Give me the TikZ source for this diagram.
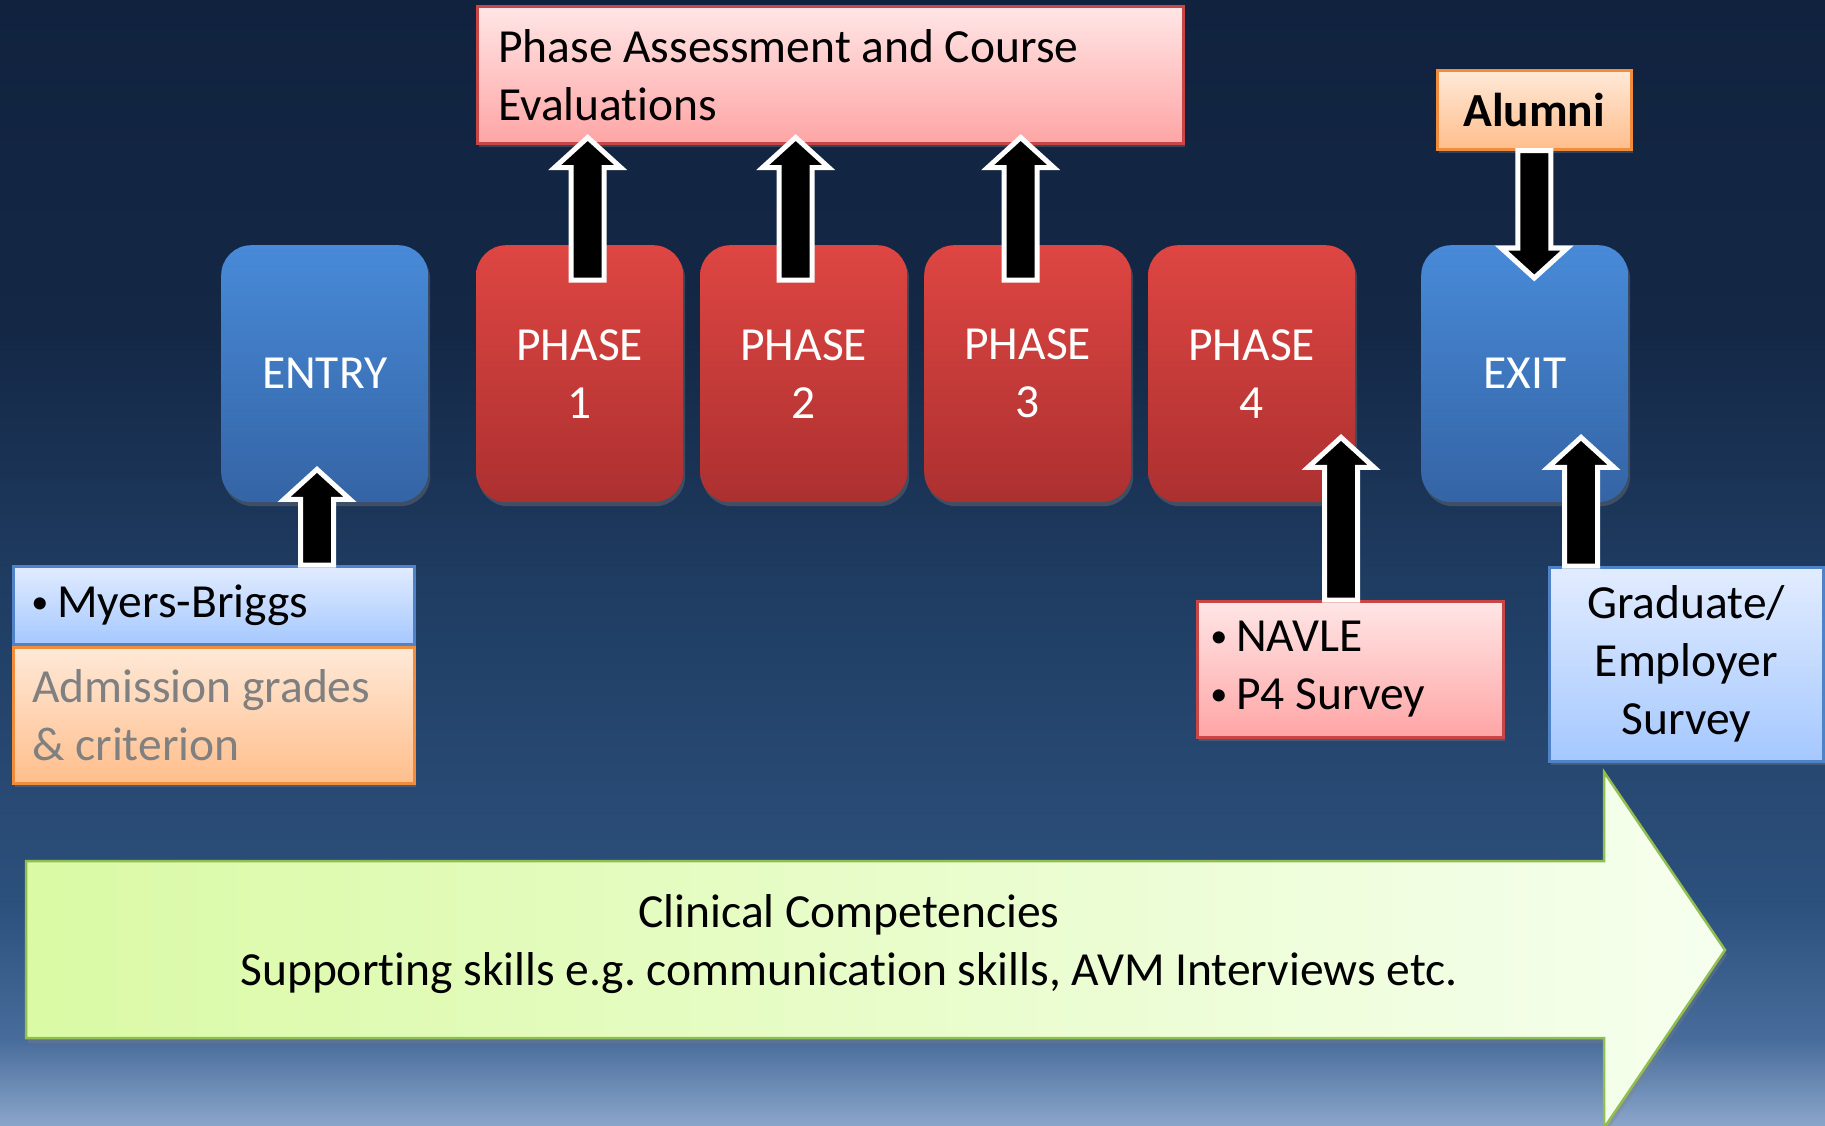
\documentclass[tikz,border=0pt]{standalone}
\usepackage{fontspec}
\usepackage{graphicx}
\setmainfont{Carlito}[Ligatures=NoCommon]
\usetikzlibrary{calc,shadows}

\definecolor{bgA}{RGB}{138,165,202}
\definecolor{bgB}{RGB}{72,108,155}
\definecolor{bgC}{RGB}{44,80,124}
\definecolor{bgD}{RGB}{32,62,100}
\definecolor{bgE}{RGB}{20,40,70}
\definecolor{bgF}{RGB}{16,34,62}
\definecolor{bluetop}{RGB}{72,138,216}
\definecolor{bluebot}{RGB}{52,100,165}
\definecolor{redtop}{RGB}{222,70,66}
\definecolor{redbot}{RGB}{172,48,48}
\definecolor{pinktop}{RGB}{255,230,230}
\definecolor{pinkbot}{RGB}{255,165,165}
\definecolor{pinkline}{RGB}{200,70,70}
\definecolor{lbtop}{RGB}{226,236,255}
\definecolor{lbbot}{RGB}{165,200,255}
\definecolor{lbline}{RGB}{80,130,200}
\definecolor{ortop}{RGB}{255,233,216}
\definecolor{orbot}{RGB}{255,190,140}
\definecolor{orline}{RGB}{240,140,60}
\definecolor{limeL}{RGB}{218,250,165}
\definecolor{limeR}{RGB}{246,255,238}
\definecolor{limeline}{RGB}{145,190,80}
\definecolor{graytext}{RGB}{128,128,128}

\pgfdeclareverticalshading{bgshade}{100bp}{color(0bp)=(bgA); color(25bp)=(bgA); color(28.8bp)=(bgB); color(35bp)=(bgC); color(48bp)=(bgD); color(60bp)=(bgE); color(75bp)=(bgF); color(100bp)=(bgF)}

\newcommand{\blockarrow}[2]{%
  \coordinate (hb) at ($(#2)!30pt!(#1)$);
  \draw[barrow] ($(#1)!16.5pt!90:(#2)$) -- ($(hb)!16.5pt!90:(#2)$) -- ($(hb)!33pt!90:(#2)$)
    -- (#2) -- ($(hb)!33pt!-90:(#2)$) -- ($(hb)!16.5pt!-90:(#2)$) -- ($(#1)!16.5pt!-90:(#2)$) -- cycle;
}
\newcommand{\bul}{\raisebox{4.5pt}{\scalebox{0.72}{•}}\hspace{9pt}}

\begin{document}
\frenchspacing
\begin{tikzpicture}[x=1pt,y=-1pt,
  txt/.style={font=\fontsize{47.5}{58}\selectfont\frenchspacing},
  shd/.style={drop shadow={opacity=0.35,shadow xshift=2pt,shadow yshift=-4pt}},
  bigbox/.style={txt,shd,rounded corners=30pt,minimum width=207pt,minimum height=257pt,
    anchor=north west,text=white,align=center,inner sep=0pt},
  bluebox/.style={bigbox,top color=bluetop,bottom color=bluebot},
  redbox/.style={bigbox,top color=redtop,bottom color=redbot},
  infobox/.style={txt,shd,anchor=north west,line width=2.5pt,inner ysep=0pt},
  pinkbox/.style={infobox,top color=pinktop,bottom color=pinkbot,draw=pinkline},
  lbbox/.style={infobox,top color=lbtop,bottom color=lbbot,draw=lbline},
  orbox/.style={infobox,top color=ortop,bottom color=orbot,draw=orline},
  barrow/.style={fill=black,draw=white,line width=5pt,line join=miter}
]
\useasboundingbox (0,0) rectangle (1825,1125);
\fill[shading=bgshade] (0,0) rectangle (1825,1125);

% big arrow
\draw[left color=limeL,right color=limeR,draw=limeline,line width=2.5pt,
  drop shadow={opacity=0.35,shadow xshift=2pt,shadow yshift=-5pt}]
  (26,861) -- (1604,861) -- (1604,772) -- (1725,950) -- (1604,1128) -- (1604,1038) -- (26,1038) -- cycle;
\node[txt,align=center] (cc) at (849,944) {Clinical Competencies\\Supporting skills e.g. communication skills, AVM Interviews etc.};

% main boxes
\node[bluebox] (entry) at (221,245) {ENTRY};
\node[redbox] (p1) at (476,245) {PHASE\\1};
\node[redbox] (p2) at (700,245) {PHASE\\2};
\node[redbox] (p3) at (924,245) {PHASE\\3};
\node[redbox] (p4) at (1148,245) {PHASE\\4};
\node[bluebox] (exit) at (1421,245) {EXIT};

% info boxes
\node[pinkbox,minimum width=706pt,minimum height=137pt,text width=664pt,inner xsep=21pt,align=flush left] (assess) at (476,5) {Phase Assessment and Course\\Evaluations};
\node[orbox,minimum width=194pt,minimum height=79pt,align=center,inner xsep=0pt] (alumni) at (1436,69) {\textbf{Alumni}};
\node[lbbox,minimum width=401pt,minimum height=78pt,text width=365pt,inner xsep=18pt,align=flush left] (myers) at (12,565) {\bul Myers-Briggs};
\node[orbox,minimum width=401pt,minimum height=136pt,text width=363pt,inner xsep=19pt,align=flush left,text=graytext] (adm) at (12,646) {Admission grades\\\& criterion};
\node[pinkbox,minimum width=306pt,minimum height=136pt,text width=280pt,inner xsep=13pt,align=flush left] (navle) at (1196,600) {\bul NAVLE\\\bul P4 Survey};
\node[lbbox,minimum width=274pt,minimum height=194pt,text width=260pt,inner xsep=7pt,align=flush center] (grad) at (1548,566) {Graduate/\\Employer\\Survey};

% connector arrows
\coordinate (a1t) at ($(p1.north)+(8,35)$);
\coordinate (a1h) at ($(a1t |- assess.south)+(0,-7)$);
\coordinate (a2t) at ($(p2.north)+(-8,35)$);
\coordinate (a2h) at ($(a2t |- assess.south)+(0,-7)$);
\coordinate (a3t) at ($(p3.north)+(-7,35)$);
\coordinate (a3h) at ($(a3t |- assess.south)+(0,-7)$);
\coordinate (aet) at ($(myers.north west)+(305,0)$);
\coordinate (aeh) at ($(aet |- entry.south)+(0,-33)$);
\coordinate (aat) at (alumni.south);
\coordinate (aah) at ($(aat |- exit.north)+(0,33)$);
\coordinate (ant) at ($(navle.north west)+(145,0)$);
\coordinate (anh) at ($(ant |- p4.south)+(0,-65)$);
\coordinate (axt) at ($(grad.north west)+(33,0)$);
\coordinate (axh) at ($(axt |- exit.south)+(0,-65)$);

\blockarrow{a1t}{a1h}
\blockarrow{a2t}{a2h}
\blockarrow{a3t}{a3h}
\blockarrow{aet}{aeh}
\blockarrow{aat}{aah}
\blockarrow{ant}{anh}
\blockarrow{axt}{axh}
\end{tikzpicture}
\end{document}
